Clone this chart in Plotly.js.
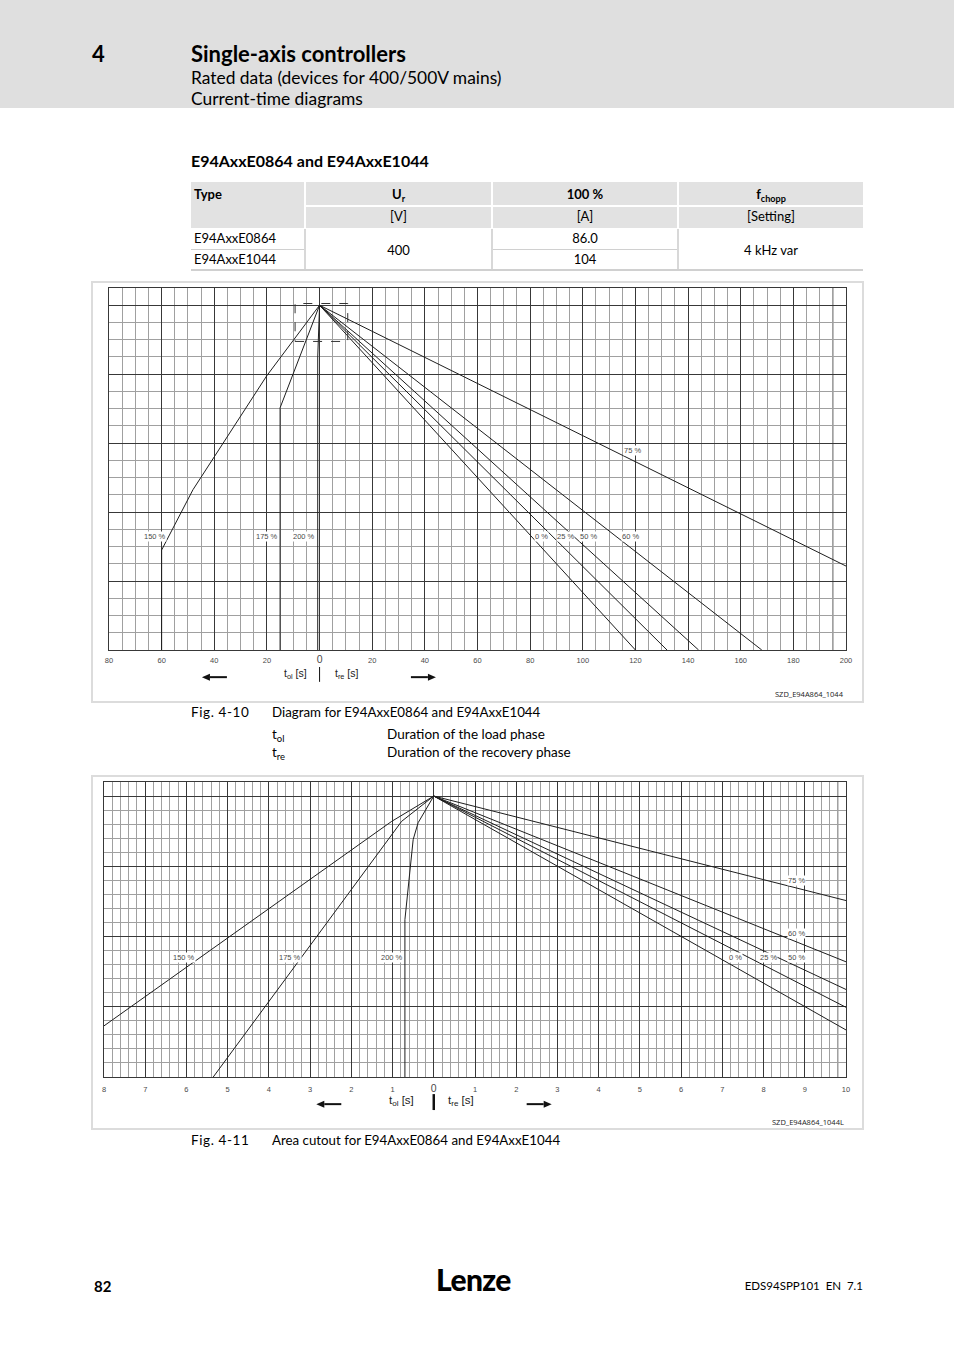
<!DOCTYPE html>
<html><head><meta charset="utf-8">
<script src="https://cdn.plot.ly/plotly-3.0.1.min.js"></script>
<style>
body{margin:0;width:954px;height:1350px;position:relative;background:#fff;font-family:Lato,'Open Sans',sans-serif;color:#000;overflow:hidden}
.t{position:absolute;white-space:nowrap;line-height:18px}
#hdr{position:absolute;left:0;top:0;width:954px;height:108px;background:#dfdfdf}
.cell{position:absolute;background:#e2e2e2}
.ctr{position:absolute;text-align:center;white-space:nowrap;font-size:13px;line-height:16px}
.vl{position:absolute;width:2px;background:#d8d8d8}
.hl{position:absolute;height:1px;background:#d0d0d0}
.frame{position:absolute;border:2px solid #dcdcdc;box-sizing:border-box}
.plot{position:absolute}
sub{font-size:70%;vertical-align:-3px;line-height:0}
</style></head>
<body>
<div id="hdr"></div>
<div class="t" style="left:92px;top:43px;font-size:22px;font-weight:700;line-height:21px">4</div>
<div class="t" style="left:191px;top:43px;font-size:22px;font-weight:700;line-height:21px">Single-axis controllers</div>
<div class="t" style="left:191px;top:69px;font-size:17.4px">Rated data (devices for 400/500V mains)</div>
<div class="t" style="left:191px;top:90px;font-size:17.4px">Current-time diagrams</div>

<div class="t" style="left:191px;top:152px;font-size:16px;font-weight:700">E94AxxE0864 and E94AxxE1044</div>

<!-- table -->
<div class="cell" style="left:191px;top:182px;width:113px;height:46px"></div>
<div class="cell" style="left:306px;top:182px;width:185px;height:23px"></div>
<div class="cell" style="left:493px;top:182px;width:184px;height:23px"></div>
<div class="cell" style="left:679px;top:182px;width:184px;height:23px"></div>
<div class="cell" style="left:306px;top:207px;width:185px;height:21px"></div>
<div class="cell" style="left:493px;top:207px;width:184px;height:21px"></div>
<div class="cell" style="left:679px;top:207px;width:184px;height:21px"></div>
<div class="vl" style="left:304px;top:229px;height:41px"></div>
<div class="vl" style="left:491px;top:229px;height:41px"></div>
<div class="vl" style="left:677px;top:229px;height:41px"></div>
<div class="hl" style="left:191px;top:249px;width:113px"></div>
<div class="hl" style="left:493px;top:249px;width:184px"></div>
<div class="hl" style="left:191px;top:269px;width:672px;height:2px"></div>
<div class="ctr" style="left:194px;top:186px;font-weight:700;text-align:left">Type</div>
<div class="ctr" style="left:306px;top:186px;width:185px;font-weight:700">U<sub>r</sub></div>
<div class="ctr" style="left:493px;top:186px;width:184px;font-weight:700">100 %</div>
<div class="ctr" style="left:679px;top:186px;width:184px;font-weight:700">f<sub>chopp</sub></div>
<div class="ctr" style="left:306px;top:208px;width:185px">[V]</div>
<div class="ctr" style="left:493px;top:208px;width:184px">[A]</div>
<div class="ctr" style="left:679px;top:208px;width:184px">[Setting]</div>
<div class="ctr" style="left:194px;top:230px;text-align:left">E94AxxE0864</div>
<div class="ctr" style="left:194px;top:251px;text-align:left">E94AxxE1044</div>
<div class="ctr" style="left:306px;top:242px;width:185px">400</div>
<div class="ctr" style="left:493px;top:230px;width:184px">86.0</div>
<div class="ctr" style="left:493px;top:251px;width:184px">104</div>
<div class="ctr" style="left:679px;top:242px;width:184px">4 kHz var</div>

<div class="frame" style="left:91px;top:281px;width:773px;height:422px"></div>
<div id="c1" class="plot" style="left:91px;top:281px;width:773px;height:422px"></div>

<div class="t" style="left:191px;top:703px;font-size:13.5px;letter-spacing:0.6px">Fig. 4-10</div>
<div class="t" style="left:272px;top:703px;font-size:13.3px">Diagram for E94AxxE0864 and E94AxxE1044</div>
<div class="t" style="left:272px;top:725px;font-size:13.5px">t<sub>ol</sub></div>
<div class="t" style="left:387px;top:725px;font-size:13.5px">Duration of the load phase</div>
<div class="t" style="left:272px;top:743px;font-size:13.5px">t<sub>re</sub></div>
<div class="t" style="left:387px;top:743px;font-size:13.5px">Duration of the recovery phase</div>

<div class="frame" style="left:91px;top:775px;width:773px;height:355px"></div>
<div id="c2" class="plot" style="left:91px;top:775px;width:773px;height:355px"></div>

<div class="t" style="left:191px;top:1131px;font-size:13.5px;letter-spacing:0.6px">Fig. 4-11</div>
<div class="t" style="left:272px;top:1131px;font-size:13.3px">Area cutout for E94AxxE0864 and E94AxxE1044</div>

<div class="t" style="left:94px;top:1277px;font-size:15px;font-weight:700">82</div>
<div class="t" style="left:436px;top:1264px;font-size:30px;font-weight:900;letter-spacing:-0.6px;line-height:30px">Lenze</div>
<div class="t" style="left:700px;top:1277px;width:163px;text-align:right;font-size:11.5px">EDS94SPP101&nbsp; EN&nbsp; 7.1</div>

<script>
// ---------- Data: Fig. 4-10 (full diagram) ----------
const fig1_xTickVals = [-80,-60,-40,-20,0,20,40,60,80,100,120,140,160,180,200];
const fig1_xTickText = ['80','60','40','20','0','20','40','60','80','100','120','140','160','180','200'];
const fig1_yMajor = [0,4,8,12,16,20];

// load phase (t_ol, drawn to the left) and recovery phase (t_re, to the right)
const f1_150_x = [0, -20.1, -48.1, -60, -60];
const f1_150_y = [20, 15.9, 9.3, 5.8, 0];
const f1_175_x = [0, -10.6, -15, -15];
const f1_175_y = [20, 15.85, 14.05, 0];
const f1_200_x = [0, -0.7, -0.7];
const f1_200_y = [20, 17.0, 0];
const f1_0_x = [0, 120];   const f1_0_y = [20, 0];
const f1_25_x = [0, 132];  const f1_25_y = [20, 0];
const f1_50_x = [0, 144];  const f1_50_y = [20, 0];
const f1_60_x = [0, 168];  const f1_60_y = [20, 0];
const f1_75_x = [0, 200];  const f1_75_y = [20, 4.87];

// ---------- Data: Fig. 4-11 (area cutout) ----------
const fig2_xTickVals = [-8,-7,-6,-5,-4,-3,-2,-1,0,1,2,3,4,5,6,7,8,9,10];
const fig2_xTickText = ['8','7','6','5','4','3','2','1','0','1','2','3','4','5','6','7','8','9','10'];
const fig2_yMajor = [18,18.5,19,19.5,20];

const f2_150_x = [0, -1.02, -8];
const f2_150_y = [20, 19.82, 18.364];
const f2_175_x = [0, -0.78, -5.35];
const f2_175_y = [20, 19.82, 18.0];
const f2_200_x = [0, -0.38, -0.5, -0.58, -0.70, -0.70];
const f2_200_y = [20, 19.81, 19.69, 19.45, 19.12, 18.0];
const f2_0_x = [0, 10];   const f2_0_y = [20, 18.335];
const f2_25_x = [0, 10];  const f2_25_y = [20, 18.496];
const f2_50_x = [0, 10];  const f2_50_y = [20, 18.623];
const f2_60_x = [0, 10];  const f2_60_y = [20, 18.82];
const f2_75_x = [0, 10];  const f2_75_y = [20, 19.256];

// ---------- helpers ----------
const MAJ = '#383838', MIN = '#a0a0a0', INK = '#1e1e1e';
const lab = {family:'Liberation Sans, Arial, sans-serif', size:7.5, color:'#4a4a4a'};
function tr(x, y){ return {x:x, y:y, type:'scatter', mode:'lines', line:{color:INK, width:1}, hoverinfo:'skip'}; }
function zeroBig(arr){ return arr.map(s => s === '0' ? '<span style="font-size:10.5px">0</span>' : s); }
function curveLabel(x, y, text){
  return {x:x, y:y, xref:'x', yref:'y', text:text, showarrow:false, font:lab, bgcolor:'#fff', borderpad:0};
}
function axisText(x, y, text, size){
  return {x:x, y:y, xref:'x', yref:'paper', yanchor:'middle', text:text, showarrow:false,
          font:{family:'Liberation Sans, Arial, sans-serif', size:size, color:'#222'}};
}
// arrow drawn as shapes: tip at data x, paper y; dir = -1 (left) or +1 (right)
function arrowShapes(tipX, yP, dir, pxPerX, pxPerY){
  const len = 25 / pxPerX, head = 8 / pxPerX, hh = 3.5 / pxPerY, sh = 1 / pxPerY;
  const tail = tipX - dir * len, base = tipX - dir * head;
  return [
    {type:'path', xref:'x', yref:'paper', line:{width:0}, fillcolor:'#111',
     path:`M${tail},${yP-sh} L${base},${yP-sh} L${base},${yP+sh} L${tail},${yP+sh} Z`},
    {type:'path', xref:'x', yref:'paper', line:{width:0}, fillcolor:'#111',
     path:`M${tipX},${yP} L${base},${yP-hh} L${base},${yP+hh} Z`}
  ];
}
function barShape(x, y0, y1, w){
  return {type:'line', xref:'x', yref:'paper', x0:x, x1:x, y0:y0, y1:y1, line:{color:'#111', width:w}};
}

// ---------- Fig. 4-10 ----------
const traces1 = [tr(f1_150_x,f1_150_y), tr(f1_175_x,f1_175_y), tr(f1_200_x,f1_200_y),
  tr(f1_0_x,f1_0_y), tr(f1_25_x,f1_25_y), tr(f1_50_x,f1_50_y), tr(f1_60_x,f1_60_y), tr(f1_75_x,f1_75_y)];
const px1 = 737/280, py1 = 362;
const layout1 = {
  width:773, height:422, margin:{l:18, r:18, t:7, b:53},
  paper_bgcolor:'rgba(0,0,0,0)', plot_bgcolor:'#fff', showlegend:false,
  xaxis:{range:[-80,200], tickmode:'array', tickvals:fig1_xTickVals, ticktext:zeroBig(fig1_xTickText),
    showgrid:true, gridcolor:MAJ, gridwidth:1, zeroline:false, showline:true, mirror:true,
    linecolor:MAJ, linewidth:1, ticks:'', tickfont:lab, ticklabelstandoff:3, fixedrange:true,
    minor:{tickmode:'linear', tick0:0, dtick:5, showgrid:true, gridcolor:MIN, gridwidth:1}},
  yaxis:{range:[0,21], tickmode:'array', tickvals:fig1_yMajor, showticklabels:false,
    showgrid:true, gridcolor:MAJ, gridwidth:1, zeroline:false, showline:true, mirror:true,
    linecolor:MAJ, linewidth:1, ticks:'', fixedrange:true,
    minor:{tickmode:'linear', tick0:0, dtick:1, showgrid:true, gridcolor:MIN, gridwidth:1}},
  shapes:[
    {type:'line', xref:'x', yref:'paper', x0:195, x1:195, y0:0, y1:1, line:{color:MAJ, width:1}, layer:'below'},
    {type:'rect', xref:'x', yref:'y', x0:-9.3, x1:10.7, y0:17.9, y1:20.1, line:{color:'#333', width:1, dash:'dash'}},
    barShape(0, -0.047, -0.088, 1)
  ].concat(arrowShapes(-44.7, -0.075, -1, px1, py1), arrowShapes(44.2, -0.075, 1, px1, py1)),
  annotations:[
    curveLabel(-62.5, 6.6, '150 %'), curveLabel(-20, 6.6, '175 %'), curveLabel(-6, 6.6, '200 %'),
    curveLabel(84.2, 6.6, '0 %'), curveLabel(93.6, 6.6, '25 %'), curveLabel(102, 6.6, '50 %'),
    curveLabel(118, 6.6, '60 %'), curveLabel(118.8, 11.55, '75 %'),
    axisText(-9, -0.066, 't<sub>ol</sub> [s]', 10.5),
    axisText(10.5, -0.066, 't<sub>re</sub> [s]', 10.5),
    {x:1.0, y:-0.122, xref:'paper', yref:'paper', xanchor:'right', yanchor:'middle', text:'SZD_E94A864_1044', showarrow:false,
     font:{family:'Open Sans, sans-serif', size:7.5, color:'#222'}}
  ]
};
Plotly.newPlot('c1', traces1, layout1, {staticPlot:true, displayModeBar:false});

// ---------- Fig. 4-11 ----------
const traces2 = [tr(f2_150_x,f2_150_y), tr(f2_175_x,f2_175_y), tr(f2_200_x,f2_200_y),
  tr(f2_0_x,f2_0_y), tr(f2_25_x,f2_25_y), tr(f2_50_x,f2_50_y), tr(f2_60_x,f2_60_y), tr(f2_75_x,f2_75_y)];
const px2 = 742/18, py2 = 295;
const layout2 = {
  width:773, height:355, margin:{l:13, r:18, t:7, b:53},
  paper_bgcolor:'rgba(0,0,0,0)', plot_bgcolor:'#fff', showlegend:false,
  xaxis:{range:[-8,10], tickmode:'array', tickvals:fig2_xTickVals, ticktext:zeroBig(fig2_xTickText),
    showgrid:true, gridcolor:MAJ, gridwidth:1, zeroline:false, showline:true, mirror:true,
    linecolor:MAJ, linewidth:1, ticks:'', tickfont:lab, ticklabelstandoff:5, fixedrange:true,
    minor:{tickmode:'linear', tick0:0, dtick:0.2, showgrid:true, gridcolor:MIN, gridwidth:1}},
  yaxis:{range:[18,20.1], tickmode:'array', tickvals:fig2_yMajor, showticklabels:false,
    showgrid:true, gridcolor:MAJ, gridwidth:1, zeroline:false, showline:true, mirror:true,
    linecolor:MAJ, linewidth:1, ticks:'', fixedrange:true,
    minor:{tickmode:'linear', tick0:18, dtick:0.1, showgrid:true, gridcolor:MIN, gridwidth:1}},
  shapes:[
    {type:'line', xref:'x', yref:'paper', x0:9.8, x1:9.8, y0:0, y1:1, line:{color:MAJ, width:1}, layer:'below'},
    barShape(0, -0.058, -0.112, 2.5)
  ].concat(arrowShapes(-2.85, -0.092, -1, px2, py2), arrowShapes(2.86, -0.092, 1, px2, py2)),
  annotations:[
    curveLabel(-6.06, 18.851, '150 %'), curveLabel(-3.49, 18.851, '175 %'), curveLabel(-1.01, 18.851, '200 %'),
    curveLabel(7.31, 18.851, '0 %'), curveLabel(8.11, 18.851, '25 %'), curveLabel(8.79, 18.851, '50 %'),
    curveLabel(8.79, 19.024, '60 %'), curveLabel(8.79, 19.398, '75 %'),
    axisText(-0.78, -0.082, 't<sub>ol</sub> [s]', 11.5),
    axisText(0.66, -0.082, 't<sub>re</sub> [s]', 11.5),
    {x:1.0, y:-0.152, xref:'paper', yref:'paper', xanchor:'right', yanchor:'middle', text:'SZD_E94A864_1044L', showarrow:false,
     font:{family:'Open Sans, sans-serif', size:7.5, color:'#222'}}
  ]
};
Plotly.newPlot('c2', traces2, layout2, {staticPlot:true, displayModeBar:false});
</script>
</body></html>
